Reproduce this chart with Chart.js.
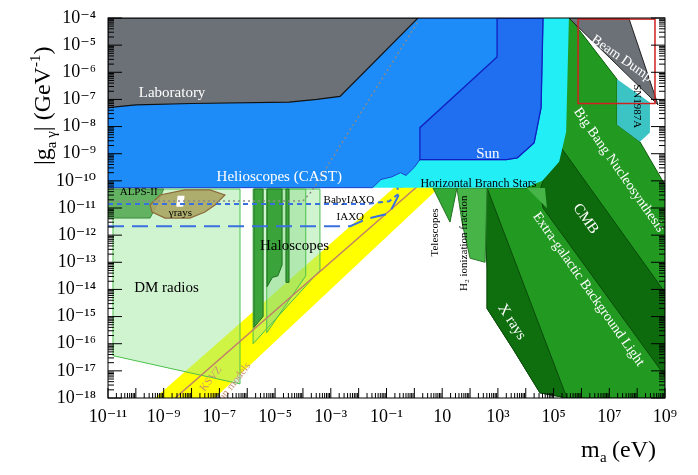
<!DOCTYPE html>
<html><head><meta charset="utf-8">
<script src="https://cdn.jsdelivr.net/npm/chart.js@4.4.0/dist/chart.umd.min.js"></script>
<style>html,body{margin:0;padding:0;background:#fff}#w{width:698px;height:475px}</style>
</head><body><div id="w"><canvas id="c"></canvas></div>
<script>
// ---- data (log10 m_a [eV], log10 g [GeV^-1]) ----
const xExponents = [-11,-10,-9,-8,-7,-6,-5,-4,-3,-2,-1,0,1,2,3,4,5,6,7,8,9];
const yExponents = [-18,-17,-16,-15,-14,-13,-12,-11,-10,-9,-8,-7,-6,-5,-4];
const axionBand = [[-9.31,-18],[-7.16,-18],[0.92,-10.22],[-0.69,-10.22]];
const ksvzLine = [[-8.59,-18],[0.38,-9.96]];
const dmRadios = [[-10.82,-10.3],[-6.26,-10.3],[-6.26,-17.48],[-10.82,-16.44]];
const haloscopeLight = [[-5.79,-10.3],[-3.39,-10.3],[-3.39,-13.3],[-5.79,-16.0]];
const haloscopeLight2 = [[-5.3,-10.3],[-3.9,-10.3],[-3.9,-13.5],[-5.3,-15.6]];
const haloStrip1 = [[-5.76,-10.3],[-5.43,-10.3],[-5.43,-15.0],[-5.76,-15.4]];
const haloStrip2 = [[-5.29,-10.3],[-4.75,-10.3],[-4.75,-13.1],[-4.9,-13.5],[-5.1,-13.56],[-5.29,-13.9]];
const haloStrip3 = [[-4.61,-10.3],[-4.50,-10.3],[-4.50,-13.74],[-4.61,-13.74]];
const alps = [[-11,-10.3],[-9.0,-10.3],[-9.3,-11.0],[-9.49,-11.37],[-11,-11.37]];
const gammaRays = [[-9.49,-10.89],[-9.13,-10.52],[-8.24,-10.33],[-7.34,-10.33],[-6.80,-10.52],[-7.16,-10.89],[-7.52,-11.15],[-8.06,-11.37],[-8.95,-11.37],[-9.42,-11.15]];
const gammaHole = [[-8.5,-10.55],[-8.25,-10.55],[-8.3,-10.95],[-8.55,-10.95]];
const bbnEbl = [[5.2,-4],[5.59,-4],[7.28,-6.26],[7.28,-7.93],[8.10,-8.56],[9,-10.15],[9,-18],[5.48,-18],[4.51,-17.81],[3.54,-16.19],[2.61,-14.70],[2.61,-10.26],[4.04,-10.26],[5.05,-9.41],[5.2,-8.0]];
const cmb = [[4.51,-10.33],[5.12,-8.56],[9,-14.11],[9,-17.19],[4.62,-11.0]];
const xRays = [[2.46,-10.26],[2.61,-10.26],[5.48,-18],[4.51,-17.81],[3.54,-16.19],[2.61,-14.70],[2.61,-13.22]];
const h2Ion = [[1.53,-10.26],[1.71,-11.52],[2.0,-12.85],[2.54,-13.0],[2.61,-10.26]];
const telescopes = [[0.67,-10.26],[0.92,-10.78],[1.28,-11.52],[1.53,-10.26]];
const wedge = [[4.04,-10.26],[4.69,-10.26],[4.76,-11.0]];
const babyIaxo = [[-11,-10.85],[-1.7,-10.85],[-0.9,-10.75],[-0.6,-10.5],[-0.6,-9.6]];
const iaxo = [[-11,-11.67],[-2.3,-11.67],[-1.7,-11.4],[-0.9,-11.2],[-0.5,-10.4],[-0.4,-9.6]];
const greyDotted = [[-11,-10.74],[-4.0,-10.74],[-3.7,-10.4],[0.15,-4.1]];
const hbStars = [[-1.6,-10.25],[4.0,-10.25],[4.6,-10.0],[5.2,-9.3],[5.45,-8.2],[5.55,-4],[-1.6,-4]];
const helioscopes = [[-11,-4],[4.62,-4],[4.55,-7.3],[4.3,-8.6],[3.7,-9.15],[3.3,-9.22],[0.2,-9.22],[0.0,-9.5],[-0.3,-9.8],[-0.5,-9.7],[-0.8,-9.85],[-1.2,-9.95],[-1.5,-10.25],[-11,-10.25]];
const sun = [[0.2,-9.22],[0.2,-8.04],[2.97,-5.44],[2.97,-4],[4.62,-4],[4.55,-7.3],[4.3,-8.6],[3.7,-9.15],[3.3,-9.22]];
const laboratory = [[-11,-4],[-11,-7.3],[-10,-7.2],[-8,-7.15],[-4.5,-7.1],[-3.5,-7.0],[-2.67,-6.89],[0.13,-4]];
const beamDump = [[5.55,-4],[7.7,-4],[8.75,-7.2]];
const sn1987a = [[7.28,-6.26],[8.46,-7.11],[8.46,-8.22],[8.10,-8.56],[7.28,-7.93]];
const redBox = [[5.88,-4.04],[8.64,-7.15]];

const sup = s => String(s).replace(/[-0-9]/g, c => ({'-':'⁻','0':'⁰','1':'¹','2':'²','3':'³','4':'⁴','5':'⁵','6':'⁶','7':'⁷','8':'⁸','9':'⁹'})[c]);
const SERIF = '"Liberation Serif","DejaVu Serif",serif';

const regions = {
  id: 'regions',
  beforeDatasetsDraw(chart) {
    const {ctx, chartArea: a, scales: {x, y}} = chart;
    const P = p => [x.getPixelForValue(Math.pow(10,p[0])), y.getPixelForValue(Math.pow(10,p[1]))];
    const poly = (pts, fill, stroke, lw, close=true, dash=null) => {
      ctx.beginPath();
      pts.forEach((p,i)=>{const q=P(p); i?ctx.lineTo(q[0],q[1]):ctx.moveTo(q[0],q[1]);});
      if (close) ctx.closePath();
      if (fill) {ctx.fillStyle=fill; ctx.fill();}
      if (stroke) {ctx.strokeStyle=stroke; ctx.lineWidth=lw||1; ctx.setLineDash(dash||[]); ctx.stroke(); ctx.setLineDash([]);}
    };
    ctx.save();
    ctx.beginPath(); ctx.rect(a.left,a.top,a.right-a.left,a.bottom-a.top); ctx.clip();
    poly(axionBand,'#ffff00');
    poly(dmRadios,'rgba(150,230,150,0.45)','#4cc04c',1);
    poly(haloscopeLight,'rgba(150,230,150,0.45)','#4cc04c',1);
    poly(haloscopeLight2,'rgba(120,215,120,0.35)','#4cc04c',1);
    poly(haloStrip1,'#3aa43a','#1f6f1f',1);
    poly(haloStrip2,'#3aa43a','#1f6f1f',1);
    poly(haloStrip3,'#3aa43a','#1f6f1f',1);
    poly(alps,'#62b262','#3b8a3b',1);
    poly(gammaRays,'rgba(170,165,100,0.9)','#8b6b3b',1.2);
    poly(gammaHole,'#fff');
    poly(ksvzLine,null,'#c0806a',1.5,false);
    poly(bbnEbl,'#229a22','#0f5f0f',1);
    poly(cmb,'#0d6b0d','#0a4a0a',1);
    poly(xRays,'#0f6f0f','#0a4a0a',1);
    poly(wedge,'#46b446');
    poly(h2Ion,'#46b446','#2a7a2a',1);
    poly(telescopes,'#34a834','#1f6f1f',1);
    poly(babyIaxo,null,'#3a6fe0',2,false,[5,4]);
    poly(iaxo,null,'#3a6fe0',2,false,[16,8]);
    poly(hbStars,'#22eef6');
    poly(helioscopes,'#1e8cf8','#1a3fd0',1);
    poly(sun,'#1f6ff0','#1020c0',1.3);
    poly(laboratory,'#6c7177','#111',1.2);
    poly(greyDotted,null,'#8a8a8a',1.5,false,[2,3]);
    poly(beamDump,'#6c7177','#222',1);
    poly(sn1987a,'#3cc4c4');
    const r0=P(redBox[0]), r1=P(redBox[1]);
    ctx.strokeStyle='#d02020'; ctx.lineWidth=1.5; ctx.strokeRect(r0[0],r0[1],r1[0]-r0[0],r1[1]-r0[1]);
    const T = (t, p, size, col, rot=0, align='center') => {
      const q=P(p); ctx.save(); ctx.translate(q[0],q[1]); ctx.rotate(rot*Math.PI/180);
      ctx.font=size+'px '+SERIF; ctx.fillStyle=col; ctx.textAlign=align; ctx.textBaseline='middle';
      ctx.fillText(t,0,0); ctx.restore();
    };
    T('Laboratory',[-8.7,-6.75],15,'#fff');
    T('Helioscopes (CAST)',[-4.85,-9.85],15,'#fff');
    T('Sun',[2.64,-9.0],15,'#fff');
    T('Horizontal Branch Stars',[2.3,-10.1],12,'#000');
    T('ALPS-II',[-9.9,-10.4],11,'#000');
    T('γrays',[-8.4,-11.2],11,'#000');
    T('BabyIAXO',[-2.35,-10.7],11,'#000');
    T('IAXO',[-2.3,-11.35],11,'#000');
    T('Haloscopes',[-4.3,-12.4],15,'#000');
    T('DM radios',[-8.9,-13.95],15,'#000');
    T('KSVZ',[-7.3,-17.3],11,'#c89070',-52);
    T('axion models',[-6.6,-17.6],11,'#c89070',-52);
    T('Telescopes',[0.75,-11.9],11,'#000',-90);
    T('H₂ ionization fraction',[1.8,-12.3],11,'#000',-90);
    T('X rays',[3.5,-15.2],15,'#fff',57);
    T('Extra-galactic Background Light',[6.25,-14.0],14,'#fff',55);
    T('CMB',[6.15,-11.4],15,'#fff',55);
    T('Big Bang Nucleosynthesis',[7.35,-9.6],14,'#fff',55);
    T('Beam Dump',[7.45,-5.5],14,'#fff',35);
    T('SN1987A',[8.0,-7.25],11,'#000',90);
    ctx.restore();
  },
  afterDraw(chart) {
    const {ctx, chartArea: a, scales: {x, y}} = chart;
    ctx.save();
    ctx.strokeStyle='#000'; ctx.lineWidth=1;
    ctx.strokeRect(a.left,a.top,a.right-a.left,a.bottom-a.top);
    ctx.beginPath();
    xExponents.forEach(e=>{
      for(let k=1;k<10;k++){ const v=k*Math.pow(10,e); if(v>1e9*1.001) break;
        const px=x.getPixelForValue(v); const L=k===1?10:5;
        ctx.moveTo(px,a.bottom); ctx.lineTo(px,a.bottom-L);}
    });
    yExponents.forEach(e=>{
      for(let k=1;k<10;k++){ const v=k*Math.pow(10,e); if(v>1e-4*1.001) break;
        const py=y.getPixelForValue(v); const L=k===1?14:6;
        ctx.moveTo(a.left,py); ctx.lineTo(a.left+L,py);
        ctx.moveTo(a.right,py); ctx.lineTo(a.right-L,py);}
    });
    ctx.stroke();
    ctx.fillStyle='#000'; ctx.textBaseline='alphabetic';
    ctx.font='24px '+SERIF; ctx.textAlign='left';
    ctx.fillText('m',581,457); ctx.font='15px '+SERIF; ctx.fillText('a',600,462);
    ctx.font='24px '+SERIF; ctx.fillText('(eV)',612,457);
    ctx.save(); ctx.translate(50,165); ctx.rotate(-Math.PI/2);
    let cx=0; const put=(t,f,dy)=>{ctx.font=f+'px '+SERIF; ctx.fillText(t,cx,dy); cx+=ctx.measureText(t).width;};
    put('|g',24,0); put('a γ',15,6); put('| (GeV',24,0); put('-1',15,-10); put(')',24,0);
    ctx.restore();
    ctx.restore();
  }
};

new Chart(document.getElementById('c'), {
  type: 'scatter',
  data: { datasets: [{ data: [], pointRadius: 0 }] },
  options: {
    responsive: true, maintainAspectRatio: false, animation: false,
    layout: { padding: { top: 18, right: 33 } },
    plugins: { legend: { display: false }, tooltip: { enabled: false } },
    scales: {
      x: { type: 'logarithmic', min: 1e-11, max: 1e9,
        afterBuildTicks: s => { s.ticks = xExponents.map(e => ({ value: Math.pow(10, e) })); },
        afterFit: s => { s.height = 77; },
        grid: { display: false }, border: { display: false },
        ticks: { autoSkip: false, maxRotation: 0, padding: 0, color: '#000', font: { family: SERIF, size: 18 },
          callback: (v, i) => { const e = xExponents[i]; if (e % 2 === 0) return ''; return e === 1 ? '10' : '10' + sup(e); } } },
      y: { type: 'logarithmic', min: 1e-18, max: 1e-4,
        afterBuildTicks: s => { s.ticks = yExponents.map(e => ({ value: Math.pow(10, e) })); },
        afterFit: s => { s.width = 108; },
        grid: { display: false }, border: { display: false },
        ticks: { autoSkip: false, padding: 4, color: '#000', font: { family: SERIF, size: 18 },
          callback: (v, i) => '10' + sup(yExponents[i]) } }
    }
  },
  plugins: [regions]
});
</script></body></html>
